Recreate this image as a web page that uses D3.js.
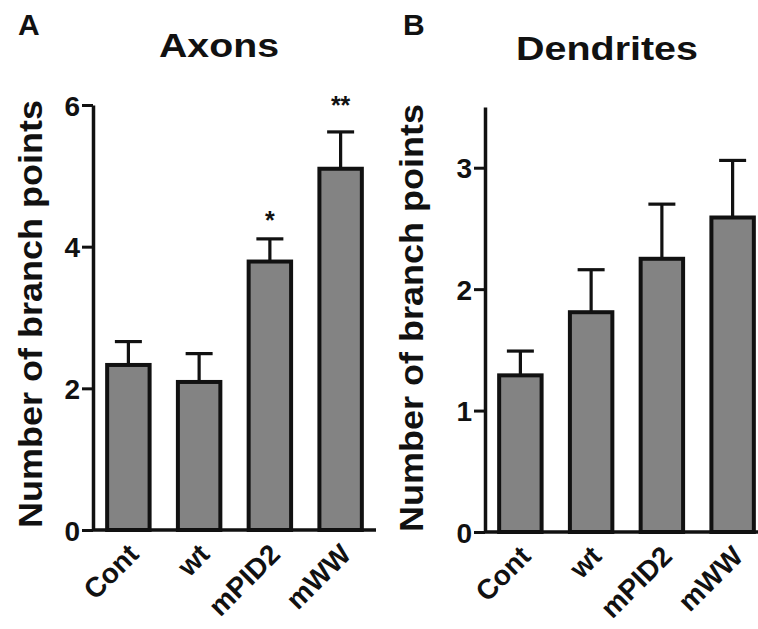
<!DOCTYPE html>
<html>
<head>
<meta charset="utf-8">
<script src="https://cdn.jsdelivr.net/npm/d3@7"></script>
<style>
  body { margin: 0; background: #fff; }
  svg text { font-family: "Liberation Sans", Arial, sans-serif; font-weight: bold; fill: #111; }
</style>
</head>
<body>
<div id="chart"></div>
<script>
// groups shared by both panels
let groups = ["Cont", "wt", "mPID2", "mWW"];

// panel A - axons
let axonMeans = [2.33, 2.09, 3.79, 5.10];
let axonSem = [0.33, 0.40, 0.32, 0.52];
let axonStars = ["", "", "*", "**"];
let axonStarLevel = [null, null, 4.42, 6.04];
let axonTicks = [0, 2, 4, 6];

// panel B - dendrites
let dendMeans = [1.29, 1.81, 2.25, 2.59];
let dendSem = [0.20, 0.35, 0.45, 0.47];
let dendTicks = [0, 1, 2, 3];

let yLabel = "Number of branch points";

let svg = d3.select("#chart").append("svg")
    .attr("width", 758)
    .attr("height", 629);

function drawPanel(opt) {
    let x = d3.scaleBand()
        .domain(groups)
        .range([opt.left, opt.left + 283])
        .paddingInner(0.4)
        .paddingOuter(0.2);

    let y = d3.scaleLinear()
        .domain([0, opt.max])
        .range([opt.bottom, opt.top]);

    let g = svg.append("g");

    // error bars (drawn first, bar covers the lower part)
    let half = 13.5;
    groups.forEach((grp, i) => {
        let cx = x(grp) + x.bandwidth() / 2;
        let top = y(opt.means[i] + opt.sem[i]);
        g.append("line")
            .attr("x1", cx).attr("x2", cx)
            .attr("y1", y(opt.means[i])).attr("y2", top)
            .attr("stroke", "#111").attr("stroke-width", 3.2);
        g.append("line")
            .attr("x1", cx - half).attr("x2", cx + half)
            .attr("y1", top).attr("y2", top)
            .attr("stroke", "#111").attr("stroke-width", 3.2);
    });

    // bars
    g.selectAll("rect.bar")
        .data(opt.means)
        .enter()
        .append("rect")
        .attr("class", "bar")
        .attr("x", (d, i) => x(groups[i]))
        .attr("y", d => y(d))
        .attr("width", x.bandwidth())
        .attr("height", d => y(0) - y(d))
        .attr("fill", "#838383")
        .attr("stroke", "#111")
        .attr("stroke-width", 4);

    // y axis
    let yAxis = g.append("g")
        .attr("transform", "translate(" + opt.left + ",0)")
        .call(d3.axisLeft(y).tickValues(opt.ticks).tickFormat(d3.format("d"))
            .tickSize(11).tickSizeOuter(0).tickPadding(2));
    yAxis.select(".domain").attr("stroke", "#111").attr("stroke-width", 3.5);
    yAxis.selectAll(".tick line").attr("stroke", "#111").attr("stroke-width", 3);
    yAxis.selectAll(".tick text")
        .style("font-size", "28px")
        .attr("dy", "0.36em")
        .attr("fill", "#111");

    // x axis
    let xAxis = g.append("g")
        .attr("transform", "translate(0," + opt.bottom + ")")
        .call(d3.axisBottom(x).tickSize(0).tickSizeOuter(0).tickPadding(0));
    xAxis.select(".domain")
        .attr("d", "M" + opt.left + ",0H" + (opt.left + 283))
        .attr("stroke", "#111").attr("stroke-width", 3.5);
    xAxis.selectAll(".tick text")
        .style("font-size", "28px")
        .attr("text-anchor", "end")
        .attr("fill", "#111")
        .attr("dy", 0)
        .attr("y", 0)
        .attr("transform", "translate(12,26) rotate(-45)");

    // significance stars
    if (opt.stars) {
        groups.forEach((grp, i) => {
            if (!opt.stars[i]) return;
            g.append("text")
                .attr("x", x(grp) + x.bandwidth() / 2)
                .attr("y", y(opt.starLevel[i]) + 12)
                .attr("text-anchor", "middle")
                .style("font-size", "25px")
                .text(opt.stars[i]);
        });
    }

    // y label
    g.append("text")
        .attr("transform", "translate(" + opt.labelX + "," + opt.labelY + ") rotate(-90)")
        .attr("text-anchor", "middle")
        .attr("textLength", 428)
        .attr("lengthAdjust", "spacingAndGlyphs")
        .style("font-size", "33px")
        .text(yLabel);

    // title and panel letter
    g.append("text")
        .attr("x", opt.titleX).attr("y", opt.titleY)
        .attr("text-anchor", "middle")
        .attr("textLength", opt.titleLen)
        .attr("lengthAdjust", "spacingAndGlyphs")
        .style("font-size", "33px")
        .text(opt.title);

    g.append("text")
        .attr("x", opt.letterX).attr("y", 35)
        .style("font-size", "30px")
        .text(opt.letter);
}

drawPanel({
    left: 93, top: 105, bottom: 530, max: 6,
    means: axonMeans, sem: axonSem, ticks: axonTicks,
    stars: axonStars, starLevel: axonStarLevel,
    labelX: 42, labelY: 314,
    title: "Axons", titleX: 219, titleY: 57, titleLen: 120,
    letter: "A", letterX: 18
});

drawPanel({
    left: 485, top: 107, bottom: 532, max: 3.5,
    means: dendMeans, sem: dendSem, ticks: dendTicks,
    labelX: 423, labelY: 318,
    title: "Dendrites", titleX: 607, titleY: 60, titleLen: 182,
    letter: "B", letterX: 403
});
</script>
</body>
</html>
